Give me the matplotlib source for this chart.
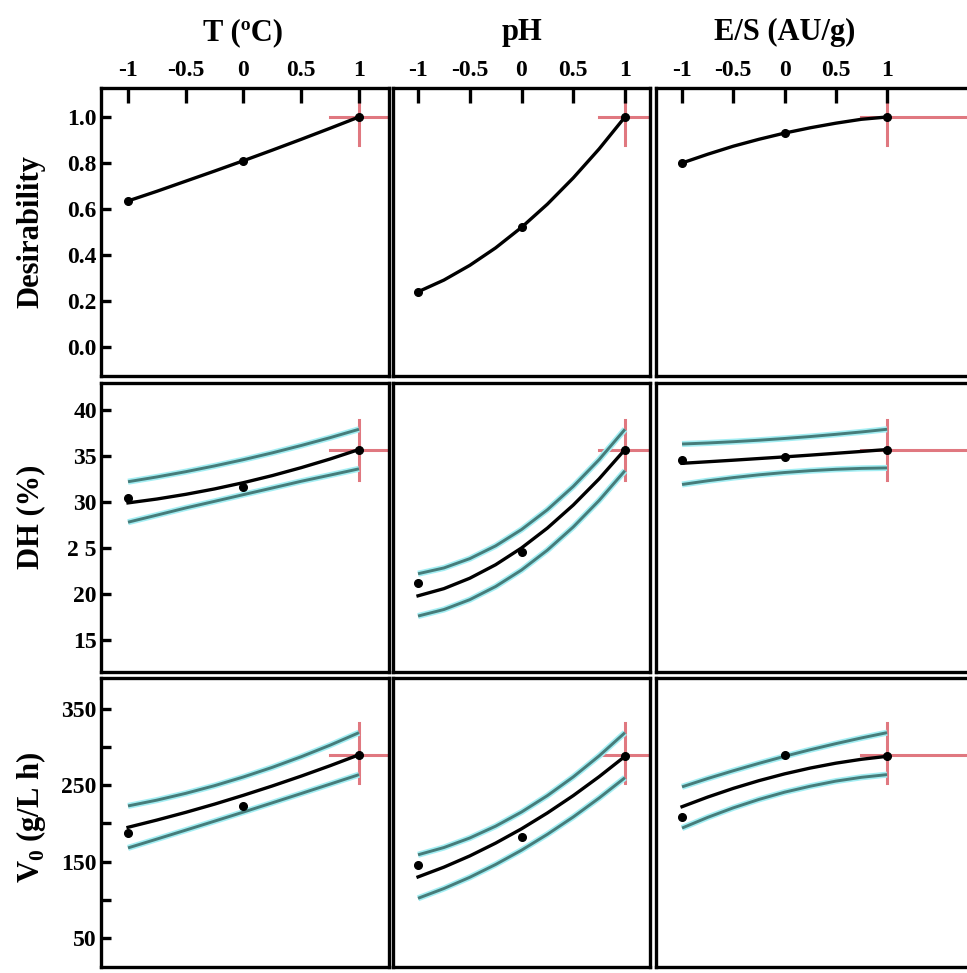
"""Profiles for predicted values and desirability (3 factors x 3 responses)"""
import numpy as np
import matplotlib.pyplot as plt

# Fonts: bold serif everywhere, also inside math text (for the V0 subscript)
plt.rcParams['font.family'] = 'Liberation Serif'
plt.rcParams['font.weight'] = 'bold'
plt.rcParams['mathtext.fontset'] = 'custom'
plt.rcParams['mathtext.rm'] = 'Liberation Serif:bold'
plt.rcParams['mathtext.bf'] = 'Liberation Serif:bold'

"""Data read from the picture"""
# coded factor levels
x_curve = [-1, -0.75, -0.5, -0.25, 0, 0.25, 0.5, 0.75, 1]
x_pts = [-1, 0, 1]

factor_names = ['T (ºC)', 'pH', 'E/S (AU/g)']
x_tick_vals = [-1, -0.5, 0, 0.5, 1]
x_tick_text = ['-1', '-0.5', '0', '0.5', '1']

# Desirability profiles (no confidence bands)
des_T = [0.635, 0.677, 0.721, 0.765, 0.81, 0.856, 0.903, 0.951, 1.0]
des_pH = [0.24, 0.291, 0.355, 0.431, 0.52, 0.621, 0.735, 0.861, 1.0]
des_ES = [0.80, 0.838, 0.873, 0.903, 0.93, 0.953, 0.973, 0.99, 1.0]
des_T_pts = [0.635, 0.81, 1.0]
des_pH_pts = [0.24, 0.52, 1.0]
des_ES_pts = [0.80, 0.93, 1.0]

# DH (%) predicted, upper and lower limits, observed points
dh_T = [29.9, 30.32, 30.83, 31.42, 32.1, 32.87, 33.73, 34.67, 35.7]
dh_T_up = [32.2, 32.72, 33.29, 33.92, 34.6, 35.34, 36.14, 36.99, 37.9]
dh_T_lo = [27.8, 28.57, 29.35, 30.07, 30.8, 31.52, 32.25, 32.92, 33.6]
dh_T_pts = [30.4, 31.6, 35.7]

dh_pH = [19.8, 20.58, 21.71, 23.18, 25.0, 27.16, 29.66, 32.51, 35.7]
dh_pH_up = [22.2, 22.83, 23.84, 25.23, 27.0, 29.15, 31.69, 34.6, 37.9]
dh_pH_lo = [17.6, 18.31, 19.38, 20.81, 22.6, 24.76, 27.28, 30.16, 33.4]
dh_pH_pts = [21.2, 24.6, 35.7]

dh_ES = [34.2, 34.37, 34.54, 34.72, 34.9, 35.09, 35.29, 35.49, 35.7]
dh_ES_up = [36.3, 36.41, 36.55, 36.71, 36.9, 37.11, 37.35, 37.61, 37.9]
dh_ES_lo = [31.9, 32.3, 32.65, 32.95, 33.2, 33.4, 33.55, 33.65, 33.7]
dh_ES_pts = [34.6, 34.85, 35.7]

# V0 (g/L h) predicted, upper and lower limits, observed points
v0_T = [195, 204.5, 214.6, 225.4, 237, 249.2, 262.1, 275.7, 290]
v0_T_up = [223, 230.6, 239.5, 249.6, 261, 273.6, 287.5, 302.6, 319]
v0_T_lo = [168, 179.6, 191.3, 203.1, 215, 227.1, 239.3, 251.6, 264]
v0_T_pts = [188, 223, 290]

v0_pH = [130, 142.8, 157.5, 174.3, 193, 213.8, 236.5, 261.3, 288]
v0_pH_up = [159, 168.5, 181, 196.5, 215, 236.5, 261, 288.5, 319]
v0_pH_lo = [102, 114.8, 129.5, 146.3, 165, 185.8, 208.5, 233.3, 260]
v0_pH_pts = [146, 182, 288]

v0_ES = [222, 234.6, 246, 256.1, 265, 272.6, 279, 284.1, 288]
v0_ES_up = [248, 258.9, 269.1, 278.8, 288, 296.6, 304.6, 312.1, 319]
v0_ES_lo = [194, 208, 220.5, 231.5, 241, 248.8, 255.5, 260.5, 264]
v0_ES_pts = [209, 290, 288]

# current setting (red cross): x level, response value, vertical extent
x_current = 1
des_current = [1.0, 0.88, 1.065]
dh_current = [35.7, 32.4, 38.9]
v0_current = [290, 253, 332]

# y axis setup per response row
row_labels = ['Desirability', 'DH (%)', r'V$_\mathbf{0}$ (g/L h)']
des_ticks = [0.0, 0.2, 0.4, 0.6, 0.8, 1.0]
des_tick_text = ['0.0', '0.2', '0.4', '0.6', '0.8', '1.0']
dh_ticks = [15, 20, 25, 30, 35, 40]
dh_tick_text = ['15', '20', '2 5', '30', '35', '40']
v0_ticks = [50, 100, 150, 200, 250, 300, 350]
v0_tick_text = ['50', '', '150', '', '250', '', '350']

"""Layout (pixel boxes of the reference turned into figure fractions)"""
W, H = 967, 973
fig = plt.figure(figsize=(W / 100, H / 100), dpi=100)

col_px = [(101, 389), (393, 650), (656, 980)]      # left/right edges
row_px = [(88, 376), (383, 672), (678, 967)]       # top/bottom edges
col_xlim = [(-1.234, 1.26), (-1.242, 1.242), (-1.254, 1.907)]
row_ylim = [(-0.126, 1.126), (11.52, 42.93), (12.0, 390.6)]
row_label_y = [232, 517, 817]

curves = [
    [(des_T, None, None, des_T_pts), (des_pH, None, None, des_pH_pts), (des_ES, None, None, des_ES_pts)],
    [(dh_T, dh_T_up, dh_T_lo, dh_T_pts), (dh_pH, dh_pH_up, dh_pH_lo, dh_pH_pts), (dh_ES, dh_ES_up, dh_ES_lo, dh_ES_pts)],
    [(v0_T, v0_T_up, v0_T_lo, v0_T_pts), (v0_pH, v0_pH_up, v0_pH_lo, v0_pH_pts), (v0_ES, v0_ES_up, v0_ES_lo, v0_ES_pts)],
]
currents = [des_current, dh_current, v0_current]
yticks = [(des_ticks, des_tick_text), (dh_ticks, dh_tick_text), (v0_ticks, v0_tick_text)]

red = '#e07880'
band_core = '#467c7a'
band_glow = '#a3eef3'

for r in range(3):
    top, bot = row_px[r]
    for c in range(3):
        left, right = col_px[c]
        ax = fig.add_axes([left / W, 1 - bot / H, (right - left) / W, (bot - top) / H])
        ax.set_xlim(*col_xlim[c])
        ax.set_ylim(*row_ylim[r])

        pred, up, lo, pts = curves[r][c]
        # confidence bands: cyan glow under a dark teal line
        if up is not None:
            for band in (up, lo):
                ax.plot(x_curve, band, color=band_glow, lw=4.4, solid_capstyle='butt', zorder=2)
                ax.plot(x_curve, band, color=band_core, lw=2.1, solid_capstyle='butt', zorder=3)
        # predicted profile and observed points
        ax.plot(x_curve, pred, color='black', lw=2.4, zorder=4)
        ax.plot(x_pts, pts, 'o', color='black', ms=5.5, zorder=5)

        # red cross at the current setting
        yc, y_lo, y_hi = currents[r]
        ax.plot([x_current, x_current], [y_lo, y_hi], color=red, lw=2.2, zorder=1)
        ax.plot([0.75, col_xlim[c][1]], [yc, yc], color=red, lw=2.2, zorder=1)

        for sp in ax.spines.values():
            sp.set_linewidth(2.4)

        # x ticks only on the top row, labels on top
        if r == 0:
            ax.xaxis.tick_top()
            ax.set_xticks(x_tick_vals)
            ax.set_xticklabels(x_tick_text)
            ax.tick_params(axis='x', direction='in', length=11, width=2.4,
                           labelsize=17, pad=5, top=True, bottom=False)
            ax.annotate(factor_names[c], xy=(0, 1), xycoords=('data', 'axes fraction'),
                        xytext=(0, 40), textcoords='offset points',
                        ha='center', va='center', fontsize=22, fontweight='bold')
        else:
            ax.set_xticks([])

        # y ticks only on the left column
        if c == 0:
            ax.set_yticks(yticks[r][0])
            ax.set_yticklabels(yticks[r][1])
            ax.tick_params(axis='y', direction='in', length=7, width=2.4,
                           labelsize=17, pad=3)
        else:
            ax.set_yticks([])

    # row label on the far left
    fig.text(0.032, 1 - row_label_y[r] / H, row_labels[r], rotation=90,
             ha='center', va='center', fontsize=22, fontweight='bold')

plt.savefig('out.png', dpi=100)
